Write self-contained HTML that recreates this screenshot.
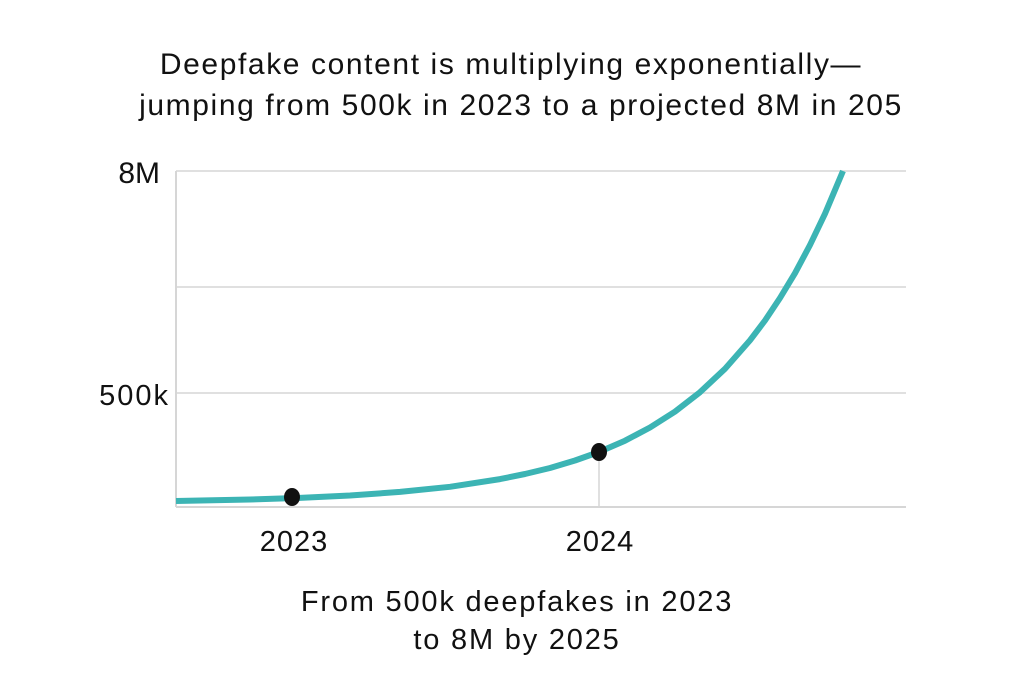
<!DOCTYPE html>
<html><head><style>
body{margin:0;background:#fff;}
svg text{font-family:"Liberation Sans",sans-serif;fill:#111;}
</style></head><body>
<svg width="1024" height="683" xmlns="http://www.w3.org/2000/svg">
<rect width="1024" height="683" fill="#fff"/>
<text x="511" y="74" font-size="30" letter-spacing="1.6" text-anchor="middle">Deepfake content is multiplying exponentially—</text>
<text x="521" y="115" font-size="30" letter-spacing="1.6" text-anchor="middle">jumping from 500k in 2023 to a projected 8M in 205</text>
<g stroke="#d6d6d6" stroke-width="1.5">
<line x1="176" y1="171" x2="906" y2="171"/>
<line x1="176" y1="287" x2="906" y2="287"/>
<line x1="176" y1="393" x2="906" y2="393"/>
<line x1="176" y1="507" x2="906" y2="507" stroke-width="2"/>
<line x1="176" y1="171" x2="176" y2="507" stroke-width="2"/>
<line x1="599" y1="452" x2="599" y2="507"/>
</g>
<text x="160" y="183" font-size="30" text-anchor="end">8M</text>
<text x="170" y="405" font-size="29" letter-spacing="2" text-anchor="end">500k</text>
<polyline points="176,501 250,499.5 300,497.9 350,495.5 400,491.9 450,486.8 500,479.1 525,474 550,468 575,460.5 599,452 625,440.7 650,427.5 675,411.6 700,392.2 725,368.8 750,340.3 765,320.5 780,298 795,273.2 810,245 825,213.7 843,171" fill="none" stroke="#3cb4b4" stroke-width="6" stroke-linejoin="round"/>
<ellipse cx="292" cy="497" rx="8" ry="9" fill="#111"/>
<ellipse cx="599" cy="452" rx="8" ry="9" fill="#111"/>
<text x="294" y="551" font-size="29" letter-spacing="1" text-anchor="middle">2023</text>
<text x="600" y="551" font-size="29" letter-spacing="1" text-anchor="middle">2024</text>
<text x="517" y="611" font-size="29" letter-spacing="1.8" text-anchor="middle">From 500k deepfakes in 2023</text>
<text x="517" y="649" font-size="29" letter-spacing="1.8" text-anchor="middle">to 8M by 2025</text>
</svg>
</body></html>
